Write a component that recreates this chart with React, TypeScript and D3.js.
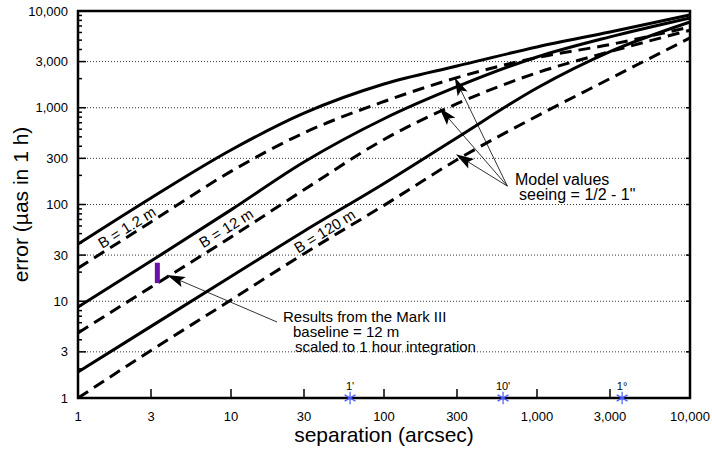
import React from "react";
import * as d3 from "d3";

// ---- data (separation in arcsec, error in µas) ----
const sepValues = [1, 3, 10, 30, 100, 300, 1000, 3000, 10000];
const solidB1_2 = [39, 117, 366, 880, 1760, 2700, 4250, 6070, 9100];
const dashB1_2 = [22, 66, 220, 550, 1160, 2050, 3300, 4500, 6840];
const solidB12 = [8.7, 26, 88, 275, 770, 1650, 3350, 5400, 8470];
const dashB12 = [4.7, 14, 46, 142, 470, 1100, 2300, 3800, 6330];
const solidB120 = [1.86, 5.5, 18, 53, 165, 490, 1600, 3800, 7700];
const dashB120 = [1.0, 3.1, 10.3, 31, 98, 290, 820, 2000, 5270];

const xTicks = [1, 3, 10, 30, 100, 300, 1000, 3000, 10000];
const yTicks = [1, 3, 10, 30, 100, 300, 1000, 3000, 10000];
const gridValues = [3, 10, 30, 100, 300, 1000, 3000];
const minorMultipliers = [2, 4, 5, 6, 7, 8, 9];

const angleMarkers = [
  { label: "1'", sep: 60 },
  { label: "10'", sep: 600 },
  { label: "1°", sep: 3600 },
];

const lineLabels = [
  { text: "B = 1.2 m", sep: 2.09, err: 58 },
  { text: "B = 12 m", sep: 9.3, err: 57 },
  { text: "B = 120 m", sep: 41, err: 53 },
];

// Mark III measurement (vertical bar)
const markIII = { sep: 3.3, lo: 15.4, hi: 25 };

const W = 712;
const H = 451;
const M = { left: 78, top: 11, right: 22, bottom: 53 };
const FONT = "'Liberation Sans', Arial, Helvetica, sans-serif";

export default function App() {
  const x = d3
    .scaleLog()
    .domain([1, 10000])
    .range([M.left, W - M.right]);
  const y = d3
    .scaleLog()
    .domain([1, 10000])
    .range([H - M.bottom, M.top]);

  const line = d3
    .line<number>()
    .x((_, i) => x(sepValues[i]))
    .y((d) => y(d))
    .curve(d3.curveMonotoneX);

  const series = [
    { v: solidB1_2, dash: false },
    { v: dashB1_2, dash: true },
    { v: solidB12, dash: false },
    { v: dashB12, dash: true },
    { v: solidB120, dash: false },
    { v: dashB120, dash: true },
  ];

  const minorTicks: number[] = [];
  for (let k = 0; k < 4; k++)
    for (const m of minorMultipliers) minorTicks.push(m * Math.pow(10, k));

  const fmt = d3.format(",");
  const x0 = x(1),
    x1 = x(10000),
    y0 = y(1),
    y1 = y(10000);

  const arrow = (tx: number, ty: number, hx: number, hy: number, key: string) => {
    const dx = hx - tx,
      dy = hy - ty;
    const len = Math.hypot(dx, dy);
    const ux = dx / len,
      uy = dy / len;
    const hl = 18,
      hw = 5.5;
    const bx = hx - ux * hl,
      by = hy - uy * hl;
    const nx = hx - ux * hl * 0.8,
      ny = hy - uy * hl * 0.8;
    const px = -uy,
      py = ux;
    return (
      <g key={key}>
        <line x1={tx} y1={ty} x2={nx} y2={ny} stroke="#000" strokeWidth={0.8} />
        <path
          d={`M${hx},${hy}L${bx + px * hw},${by + py * hw}L${nx},${ny}L${bx - px * hw},${by - py * hw}Z`}
          fill="#000"
        />
      </g>
    );
  };

  // model-values arrows (data coordinates)
  const modelTail = { sep: 640, err: 155 };
  const modelTips = [
    { sep: 290, err: 2050 },
    { sep: 230, err: 1000 },
    { sep: 295, err: 330 },
  ];
  const markTail = { sep: 20, err: 6.1 };
  const markTip = { sep: 3.82, err: 18.7 };

  const asterisk = d3.symbol(d3.symbolAsterisk, 110)();

  return (
    <div style={{ position: "fixed", left: 0, top: 0 }}>
      <svg width={W} height={H} style={{ display: "block", background: "#fff" }} fontFamily={FONT}>
        {/* gridlines */}
        {gridValues.map((g) => (
          <line
            key={"g" + g}
            x1={x0}
            x2={x1}
            y1={y(g)}
            y2={y(g)}
            stroke="#333"
            strokeWidth={1}
            strokeDasharray="1,2"
          />
        ))}
        {/* minor y ticks */}
        {minorTicks.map((t) => (
          <line key={"m" + t} x1={x0} x2={x0 + 4} y1={y(t)} y2={y(t)} stroke="#000" strokeWidth={1.5} />
        ))}
        {/* major y ticks */}
        {yTicks.map((t) => (
          <g key={"yt" + t}>
            <line x1={x0} x2={x0 + 8} y1={y(t)} y2={y(t)} stroke="#000" strokeWidth={1.5} />
            <line x1={x1} x2={x1 - 4} y1={y(t)} y2={y(t)} stroke="#000" strokeWidth={1.5} />
            <text x={68} y={y(t)} dy="0.35em" textAnchor="end" fontSize={13}>
              {fmt(t)}
            </text>
          </g>
        ))}
        {/* x ticks */}
        {xTicks.map((t) => (
          <g key={"xt" + t}>
            <line x1={x(t)} x2={x(t)} y1={y0} y2={y0 - 9} stroke="#000" strokeWidth={1.5} />
            <text x={x(t)} y={y0 + 23} textAnchor="middle" fontSize={13}>
              {fmt(t)}
            </text>
          </g>
        ))}

        {/* curves */}
        {series.map((s, i) => (
          <path
            key={"s" + i}
            d={line(s.v) || ""}
            fill="none"
            stroke="#000"
            strokeWidth={3}
            strokeDasharray={s.dash ? "12,7" : undefined}
            strokeLinecap="butt"
          />
        ))}

        {/* line labels */}
        {lineLabels.map((l) => (
          <text
            key={l.text}
            transform={`translate(${x(l.sep)},${y(l.err)}) rotate(-32)`}
            textAnchor="middle"
            dy="0.35em"
            fontSize={15}
          >
            {l.text}
          </text>
        ))}

        {/* Mark III bar */}
        <rect
          x={x(markIII.sep) - 2.5}
          y={y(markIII.hi)}
          width={5}
          height={y(markIII.lo) - y(markIII.hi)}
          fill="#6a0fa8"
        />

        {/* arrows */}
        {modelTips.map((t, i) =>
          arrow(x(modelTail.sep), y(modelTail.err), x(t.sep), y(t.err), "ma" + i)
        )}
        {arrow(x(markTail.sep), y(markTail.err), x(markTip.sep), y(markTip.err), "mk")}

        {/* annotations */}
        <text x={515} y={185} fontSize={16}>
          Model values
        </text>
        <text x={519} y={200} fontSize={16}>
          {'seeing = 1/2 - 1"'}
        </text>
        <text x={283} y={322} fontSize={15}>
          Results from the Mark III
        </text>
        <text x={293} y={337} fontSize={15}>
          baseline = 12 m
        </text>
        <text x={295} y={352} fontSize={15}>
          scaled to 1 hour integration
        </text>

        {/* frame */}
        <rect x={x0} y={y1} width={x1 - x0} height={y0 - y1} fill="none" stroke="#000" strokeWidth={2.5} />

        {/* angle markers */}
        {angleMarkers.map((a) => (
          <g key={a.label}>
            <path
              d={asterisk || ""}
              transform={`translate(${x(a.sep)},${y0})`}
              fill="none"
              stroke="#4a5cff"
              strokeWidth={1.2}
            />
            <text x={x(a.sep)} y={y0 - 8} textAnchor="middle" fontSize={11}>
              {a.label}
            </text>
          </g>
        ))}

        {/* axis titles */}
        <text x={(x0 + x1) / 2} y={442} textAnchor="middle" fontSize={21}>
          separation (arcsec)
        </text>
        <text transform={`translate(28,${(y0 + y1) / 2}) rotate(-90)`} textAnchor="middle" fontSize={21}>
          error (µas in 1 h)
        </text>
      </svg>
    </div>
  );
}
